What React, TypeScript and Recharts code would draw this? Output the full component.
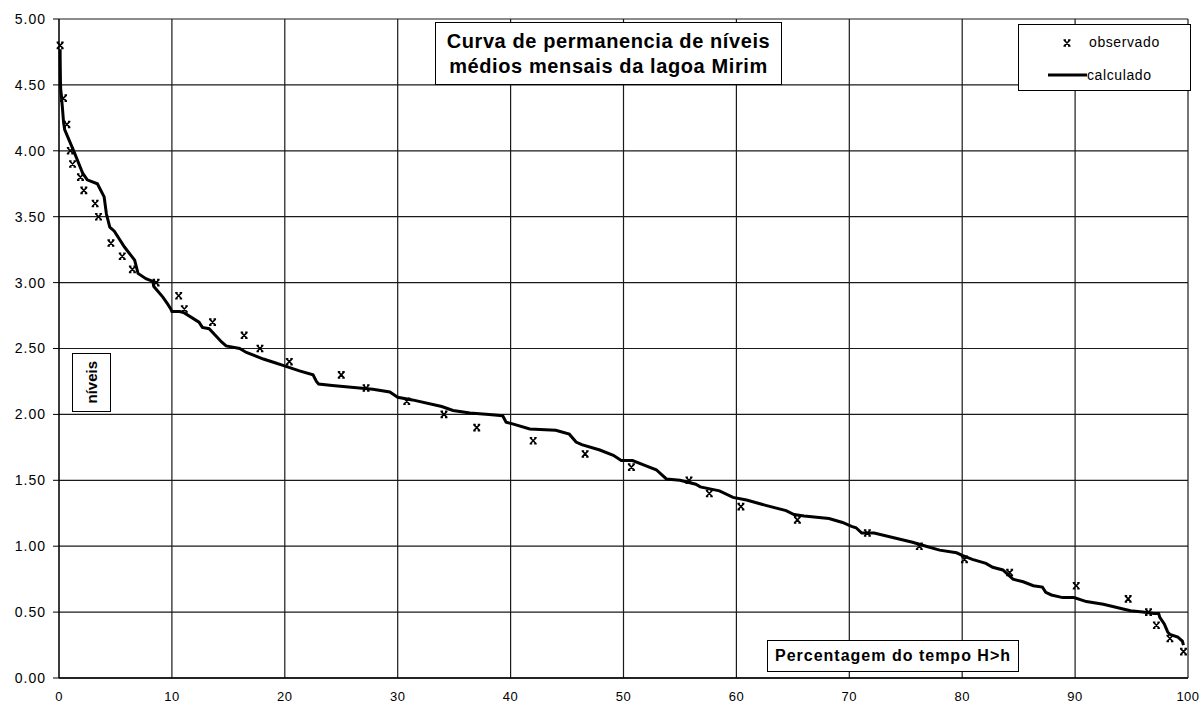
import {
  ComposedChart,
  Line,
  Scatter,
  XAxis,
  YAxis,
  CartesianGrid,
} from "recharts";

// observed monthly levels (x = % of time level exceeded)
const obsPct = [
  0.1, 0.4, 0.7, 1.0, 1.2, 1.9, 2.2, 3.2, 3.5, 4.6, 5.6, 6.5, 8.6, 10.6, 11.1,
  13.6, 16.4, 17.8, 20.4, 25.0, 27.2, 30.8, 34.1, 37.0, 42.0, 46.6, 50.7, 55.8,
  57.6, 60.4, 65.4, 71.6, 76.2, 80.2, 84.2, 90.1, 94.7, 96.5, 97.2, 98.4, 99.6,
];
const obsLevel = [
  4.8, 4.4, 4.2, 4.0, 3.9, 3.8, 3.7, 3.6, 3.5, 3.3, 3.2, 3.1, 3.0, 2.9, 2.8,
  2.7, 2.6, 2.5, 2.4, 2.3, 2.2, 2.1, 2.0, 1.9, 1.8, 1.7, 1.6, 1.5, 1.4, 1.3,
  1.2, 1.1, 1.0, 0.9, 0.8, 0.7, 0.6, 0.5, 0.4, 0.3, 0.2,
];

// calculated duration curve
const calcPct = [
  0.1, 0.1, 0.13, 0.15, 0.3, 0.4, 0.5, 1.3, 2.1, 2.5, 3.4, 4.0, 4.2, 4.5, 4.9,
  5.8, 6.7, 7.0, 7.7, 8.3, 8.4, 9.2, 9.6, 9.9, 10.0, 10.7, 11.1, 12.4, 12.7,
  13.3, 14.4, 14.8, 16.0, 16.6, 18.1, 19.2, 19.9, 21.3, 22.5, 22.8, 23.0, 24.2,
  26.6, 27.8, 29.3, 30.0, 31.3, 33.9, 34.9, 36.4, 38.1, 39.3, 39.6, 40.1, 41.7,
  44.0, 45.2, 45.8, 46.3, 47.9, 49.1, 49.8, 50.8, 52.0, 52.9, 53.8, 55.0, 56.4,
  56.8, 58.5, 59.7, 60.9, 62.6, 64.4, 65.1, 66.0, 68.2, 69.4, 70.2, 70.6, 71.1,
  72.2, 75.6, 76.8, 78.0, 79.5, 80.0, 80.9, 82.1, 82.7, 83.6, 84.5, 85.4, 86.3,
  87.1, 87.4, 87.9, 88.9, 89.9, 91.0, 92.5, 94.9, 96.0, 97.0, 97.4, 97.5, 97.9,
  98.2, 98.4, 99.1, 99.5, 99.6,
];
const calcLevel = [
  4.77, 4.72, 4.52, 4.47, 4.33, 4.22, 4.16, 4.0, 3.83, 3.78, 3.75, 3.65, 3.52,
  3.42, 3.39, 3.27, 3.17, 3.07, 3.03, 3.01, 2.97, 2.89, 2.84, 2.8, 2.78, 2.78,
  2.77, 2.7, 2.66, 2.65, 2.55, 2.52, 2.5, 2.47, 2.42, 2.39, 2.37, 2.33, 2.3,
  2.25, 2.23, 2.22, 2.2, 2.19, 2.17, 2.13, 2.11, 2.06, 2.03, 2.01, 2.0, 1.99,
  1.94, 1.93, 1.89, 1.88, 1.85, 1.79, 1.77, 1.73, 1.69, 1.65, 1.65, 1.61, 1.58,
  1.51, 1.5, 1.47, 1.45, 1.42, 1.37, 1.35, 1.31, 1.27, 1.24, 1.23, 1.21, 1.18,
  1.15, 1.14, 1.1, 1.1, 1.03, 1.0, 0.97, 0.95, 0.93, 0.9, 0.87, 0.84, 0.82,
  0.75, 0.73, 0.7, 0.69, 0.65, 0.63, 0.61, 0.61, 0.58, 0.56, 0.51, 0.5, 0.49,
  0.49, 0.46, 0.41, 0.35, 0.33, 0.31, 0.28, 0.25,
];

const xTicks = [0, 10, 20, 30, 40, 50, 60, 70, 80, 90, 100];
const yTicks = [0, 0.5, 1, 1.5, 2, 2.5, 3, 3.5, 4, 4.5, 5];

const obsData = obsPct.map((p, i) => ({ pct: p, level: obsLevel[i] }));
const calcData = calcPct.map((p, i) => ({ pct: p, level: calcLevel[i] }));

const font = '"Liberation Sans", Arial, sans-serif';

function StarX(props: any) {
  const { cx, cy } = props;
  if (cx == null || cy == null) return null;
  const d = `M${cx - 3},${cy - 3}L${cx + 3},${cy + 3}M${cx + 3},${cy - 3}L${cx - 3},${cy + 3}M${cx - 3.5},${cy - 3}L${cx - 1},${cy - 3}M${cx + 1},${cy - 3}L${cx + 3.5},${cy - 3}M${cx - 3.5},${cy + 3}L${cx - 1},${cy + 3}M${cx + 1},${cy + 3}L${cx + 3.5},${cy + 3}`;
  return <path d={d} stroke="#000" strokeWidth={1.6} fill="none" />;
}

const boxStyle: React.CSSProperties = {
  position: "absolute",
  background: "#fff",
  border: "1.5px solid #000",
  boxSizing: "border-box",
  fontFamily: font,
  color: "#000",
  display: "flex",
  alignItems: "center",
  justifyContent: "center",
};

export default function App() {
  return (
    <div style={{ position: "absolute", left: 0, top: 0, width: 1204, height: 706, background: "#fff" }}>
      <ComposedChart
        width={1204}
        height={706}
        margin={{ top: 19, right: 16, left: 0, bottom: 0 }}
      >
        <CartesianGrid stroke="#1a1a1a" strokeWidth={1.2} />
        <XAxis
          dataKey="pct"
          type="number"
          domain={[0, 100]}
          ticks={xTicks}
          height={28}
          tickLine={false}
          tickMargin={8}
          axisLine={{ stroke: "#000", strokeWidth: 1.5 }}
          tick={{ fill: "#000", fontSize: 13, fontFamily: font, letterSpacing: 0.5 }}
        />
        <YAxis
          dataKey="level"
          type="number"
          domain={[0, 5]}
          ticks={yTicks}
          width={59}
          tickSize={6}
          tickMargin={7}
          tickFormatter={(v: number) => v.toFixed(2)}
          tickLine={{ stroke: "#000" }}
          axisLine={{ stroke: "#000", strokeWidth: 1 }}
          tick={{ fill: "#000", fontSize: 14, fontFamily: font, letterSpacing: 1 }}
        />
        <Line
          data={calcData}
          dataKey="level"
          type="linear"
          stroke="#000"
          strokeWidth={3}
          dot={false}
          isAnimationActive={false}
          name="calculado"
        />
        <Scatter
          data={obsData}
          dataKey="level"
          shape={StarX}
          isAnimationActive={false}
          name="observado"
        />
      </ComposedChart>

      <div
        style={{
          ...boxStyle,
          left: 435,
          top: 22,
          width: 347,
          height: 63,
          flexDirection: "column",
          fontWeight: "bold",
          fontSize: 20,
          letterSpacing: 0.6,
          lineHeight: "25px",
          textAlign: "center",
        }}
      >
        <div>Curva de permanencia de níveis</div>
        <div>médios mensais da lagoa Mirim</div>
      </div>

      <div style={{ ...boxStyle, left: 1018, top: 24, width: 173, height: 67, display: "block" }}>
        <svg width={170} height={64} style={{ position: "absolute", left: 0, top: 0 }}>
          <StarX cx={48} cy={18} />
          <text x={70} y={22} fontSize={14} fontFamily={font} letterSpacing={0.6} fill="#000">
            observado
          </text>
          <line x1={29} y1={50} x2={68} y2={50} stroke="#000" strokeWidth={3} />
          <text x={68} y={55} fontSize={14} fontFamily={font} letterSpacing={0.6} fill="#000">
            calculado
          </text>
        </svg>
      </div>

      <div style={{ ...boxStyle, left: 72, top: 353, width: 39, height: 59 }}>
        <div
          style={{
            writingMode: "vertical-rl",
            transform: "rotate(180deg)",
            fontWeight: "bold",
            fontSize: 15,
          }}
        >
          níveis
        </div>
      </div>

      <div
        style={{
          ...boxStyle,
          left: 767,
          top: 640,
          width: 252,
          height: 32,
          fontWeight: "bold",
          fontSize: 16,
          letterSpacing: 1,
        }}
      >
        Percentagem do tempo H&gt;h
      </div>
    </div>
  );
}
